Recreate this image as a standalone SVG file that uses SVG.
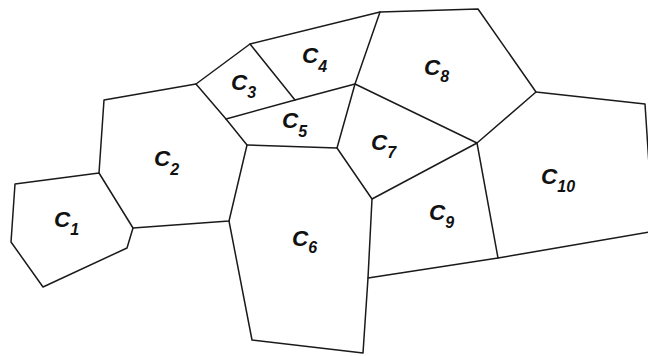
<svg xmlns="http://www.w3.org/2000/svg" width="648" height="356" viewBox="0 0 648 356">
<style>
.e{fill:none;stroke:#1a1a1a;stroke-width:1.5;stroke-linejoin:round;stroke-linecap:round}
.l{font-family:"Liberation Sans",Arial,sans-serif;font-style:italic;font-weight:bold;font-size:22.5px;fill:#111}
.s{font-size:16px}
</style>
<rect width="648" height="356" fill="#fff"/>
<g id="edges" class="e">
<polyline points="99,173 15,184 11,242 43,287 127,248 133,228 99,173"/>
<polyline points="99,173 104,100 196,84 250,44 380,12 478,9 536,92 645,104 650,180"/>
<polyline points="133,228 229,221 247,145 226,119 196,84"/>
<polyline points="229,221 252,340 363,353 368,278 372,199 337,148 247,145"/>
<polyline points="226,119 295,100 355,84 380,12"/>
<polyline points="250,44 295,100"/>
<polyline points="355,84 337,148"/>
<polyline points="355,84 477,143 536,92"/>
<polyline points="372,199 477,143 498,258"/>
<polyline points="368,278 498,258 650,232"/>
</g>
<g id="c1"><text class="l" x="54" y="227">C<tspan class="s" dy="8">1</tspan></text></g>
<g id="c2"><text class="l" x="154" y="166">C<tspan class="s" dy="9">2</tspan></text></g>
<g id="c3"><text class="l" x="231" y="90">C<tspan class="s" dy="8">3</tspan></text></g>
<g id="c4"><text class="l" x="302" y="63">C<tspan class="s" dy="9">4</tspan></text></g>
<g id="c5"><text class="l" x="282" y="128">C<tspan class="s" dy="9">5</tspan></text></g>
<g id="c6"><text class="l" x="292" y="246">C<tspan class="s" dy="7">6</tspan></text></g>
<g id="c7"><text class="l" x="371" y="150">C<tspan class="s" dy="8">7</tspan></text></g>
<g id="c8"><text class="l" x="424" y="75">C<tspan class="s" dy="7">8</tspan></text></g>
<g id="c9"><text class="l" x="429" y="220">C<tspan class="s" dy="8">9</tspan></text></g>
<g id="c10"><text class="l" x="541" y="184">C<tspan class="s" dy="8">10</tspan></text></g>
</svg>
